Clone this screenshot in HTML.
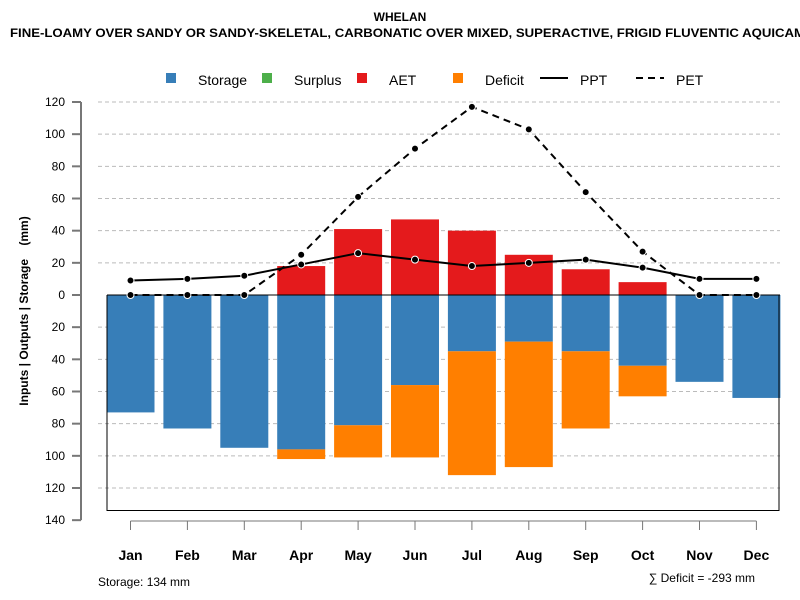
<!DOCTYPE html>
<html><head><meta charset="utf-8"><style>
body{margin:0;background:#fff;}
svg{display:block;font-family:"Liberation Sans",sans-serif;}
</style></head><body>
<svg id="chart" width="800" height="600">
<text x="400" y="21" text-anchor="middle" font-size="12" font-weight="bold">WHELAN</text>
<text x="10" y="37" font-size="12" font-weight="bold" textLength="795" lengthAdjust="spacingAndGlyphs">FINE-LOAMY OVER SANDY OR SANDY-SKELETAL, CARBONATIC OVER MIXED, SUPERACTIVE, FRIGID FLUVENTIC AQUICAM</text>
<g>
<rect x="166" y="73" width="10" height="10" fill="#377eb8"/>
<text x="198" y="85" font-size="14">Storage</text>
<rect x="262" y="73" width="10" height="10" fill="#4daf4a"/>
<text x="294" y="85" font-size="14">Surplus</text>
<rect x="357" y="73" width="10" height="10" fill="#e41a1c"/>
<text x="389" y="85" font-size="14">AET</text>
<rect x="453" y="73" width="10" height="10" fill="#ff7f00"/>
<text x="485" y="85" font-size="14">Deficit</text>
<line x1="540" y1="78" x2="568" y2="78" stroke="#000" stroke-width="2"/>
<text x="580" y="85" font-size="14">PPT</text>
<line x1="636" y1="78" x2="664" y2="78" stroke="#000" stroke-width="2" stroke-dasharray="7,5"/>
<text x="676" y="85" font-size="14">PET</text>
</g>
<text transform="translate(28,311) rotate(-90)" text-anchor="middle" font-size="12" font-weight="bold" xml:space="preserve">Inputs | Outputs | Storage    (mm)</text>
<g id="plot"></g>
<text x="98" y="586" font-size="12">Storage: 134 mm</text>
<text x="755" y="582" text-anchor="end" font-size="12">∑ Deficit = -293 mm</text>
</svg>
<script>
const months=["Jan","Feb","Mar","Apr","May","Jun","Jul","Aug","Sep","Oct","Nov","Dec"];
const storage=[73,83,95,96,81,56,35,29,35,44,54,64];
const deficit=[0,0,0,6,20,45,77,78,48,19,0,0];
const aet=[0,0,0,18,41,47,40,25,16,8,0,0];
const surplus=[0,0,0,0,0,0,0,0,0,0,0,0];
const ppt=[9,10,12,19,26,22,18,20,22,17,10,10];
const pet=[0,0,0,25,61,91,117,103,64,27,0,0];
const yTicks=[120,100,80,60,40,20,0,-20,-40,-60,-80,-100,-120,-140];
const totalStorage=134;
const NS="http://www.w3.org/2000/svg";
const g=document.getElementById("plot");
const y=v=>295-v*1.6083;
const x=i=>130.5+i*56.9;
const bw=48;
function mk(t,a){const e=document.createElementNS(NS,t);for(const k in a)e.setAttribute(k,a[k]);g.appendChild(e);return e;}
yTicks.forEach(v=>{
 if(v!==0&&v!==-140){const l=mk("line",{x1:98,x2:780,y1:y(v),y2:y(v),stroke:"#bbb","stroke-dasharray":"4,3"});
 
 }
 const t=mk("line",{x1:72,x2:81,y1:y(v),y2:y(v),stroke:"#777","stroke-width":2});
 
 
 const tx=mk("text",{x:65,y:y(v)+4,"text-anchor":"end","font-size":12});
 tx.textContent=Math.abs(v);
 
 
});
const ax=mk("line",{x1:81,x2:81,y1:y(120),y2:y(-140),stroke:"#777","stroke-width":2});


months.forEach((m,i)=>{
 const cx=x(i);
 const s=mk("rect",{x:cx-bw/2,y:y(0),width:bw,height:y(-storage[i])-y(0),fill:"#377eb8"});
 
 
 if(deficit[i]>0){const d=mk("rect",{x:cx-bw/2,y:y(-storage[i]),width:bw,height:y(-storage[i]-deficit[i])-y(-storage[i]),fill:"#ff7f00"});
 
 }
 if(aet[i]>0){const a=mk("rect",{x:cx-bw/2,y:y(aet[i]),width:bw,height:y(0)-y(aet[i]),fill:"#e41a1c"});
 
 }
 if(surplus[i]>0){const su=mk("rect",{x:cx-bw/2,y:y(aet[i]+surplus[i]),width:bw,height:y(aet[i])-y(aet[i]+surplus[i]),fill:"#4daf4a"});
 
 }
 const tk=mk("line",{x1:cx,x2:cx,y1:521,y2:530,stroke:"#777","stroke-width":1});
 
 
 const lb=mk("text",{x:cx,y:560,"text-anchor":"middle","font-size":14,"font-weight":"bold"});
 lb.textContent=m;
 
 
});
const xa=mk("line",{x1:x(0),x2:x(11),y1:521,y2:521,stroke:"#777","stroke-width":1});


const z=mk("line",{x1:107,x2:780,y1:y(0),y2:y(0),stroke:"#000","stroke-width":1});


const bx=mk("path",{d:`M107 ${y(0)} V${y(-totalStorage)} H779 V${y(0)}`,fill:"none",stroke:"#000","stroke-width":1});


function series(arr,name,dash){
 const p=mk("polyline",{points:arr.map((v,i)=>x(i)+","+y(v)).join(" "),fill:"none",stroke:"#000","stroke-width":2,"stroke-dasharray":dash});
 
 
 arr.forEach((v,i)=>{const c=mk("circle",{cx:x(i),cy:y(v),r:3.5,fill:"#000",stroke:"#fff","stroke-width":1});
 
 });
}
series(pet,"pet","7,5");
series(ppt,"ppt","none");
</script>
</body></html>
